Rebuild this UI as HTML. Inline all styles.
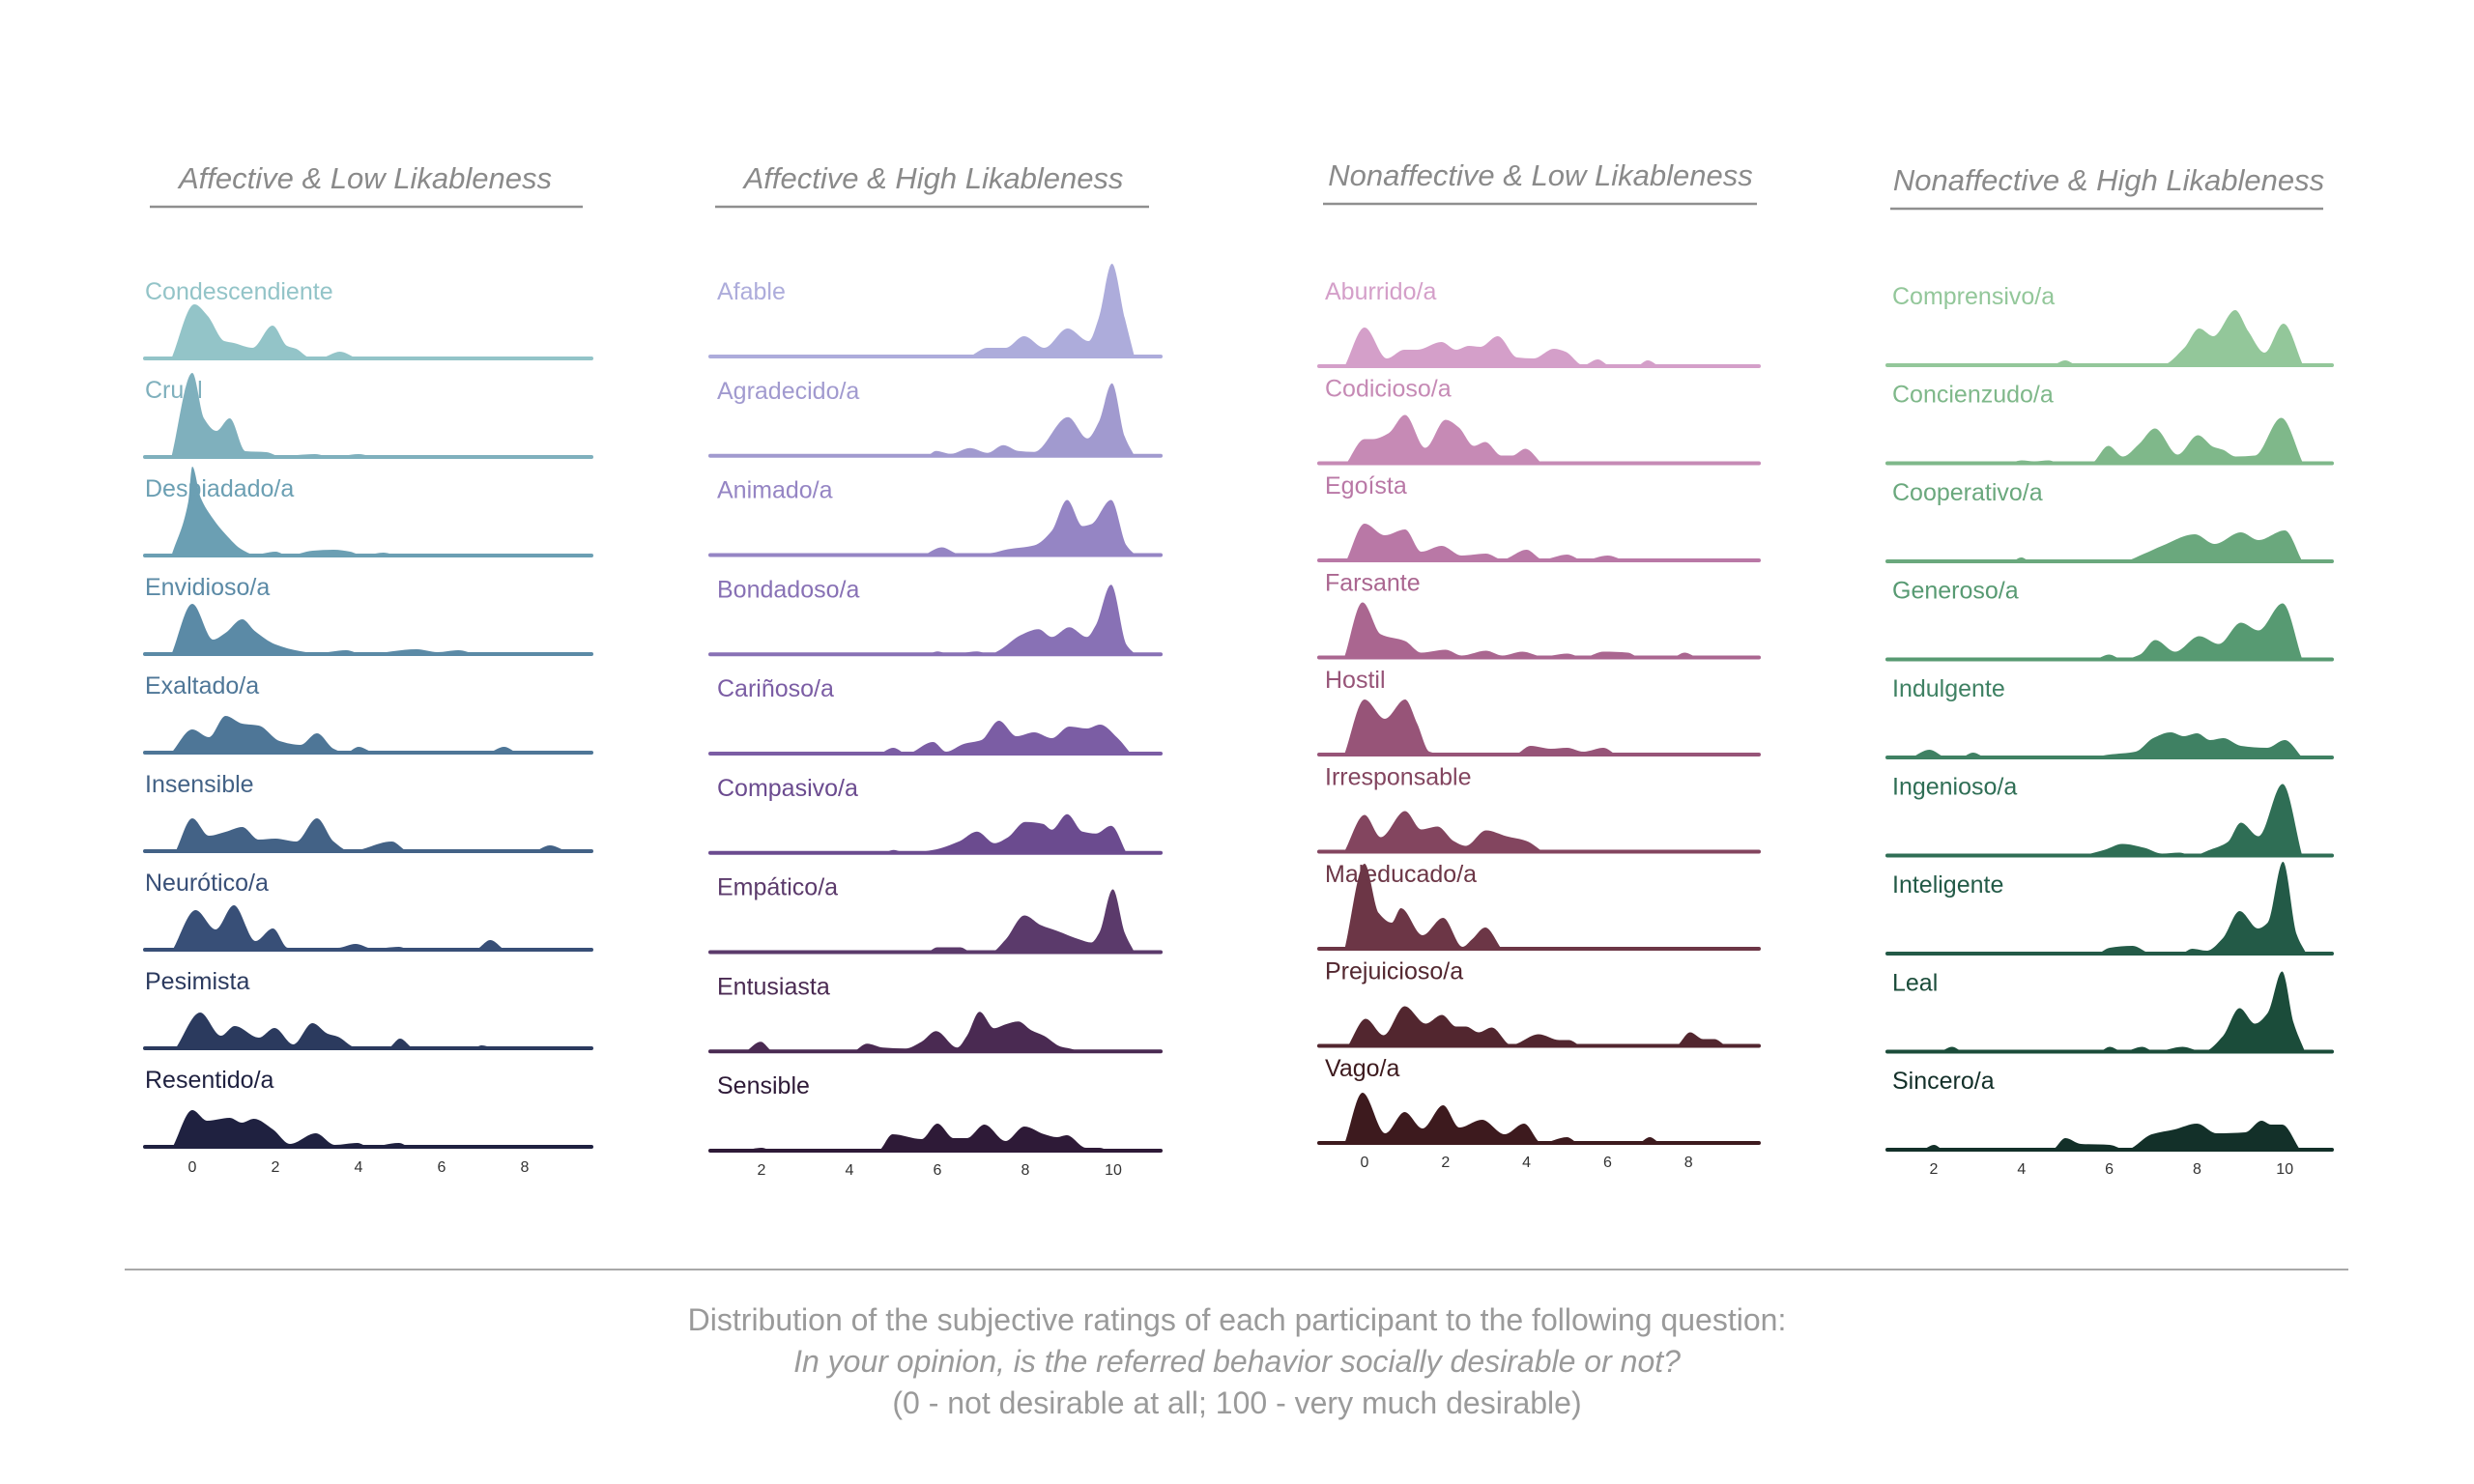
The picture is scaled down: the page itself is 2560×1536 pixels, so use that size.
<!DOCTYPE html>
<html><head><meta charset="utf-8">
<style>
html,body{margin:0;padding:0;background:#fff;}
svg{display:block;}
text{font-family:"Liberation Sans",sans-serif;}
</style></head>
<body>
<svg id="chart" width="2560" height="1536" viewBox="0 0 2560 1536" xmlns="http://www.w3.org/2000/svg">
<rect width="2560" height="1536" fill="#fff"/>
<g id="panels"></g>
<line x1="129" y1="1314" x2="2430" y2="1314" stroke="#a8a8a8" stroke-width="2"/>
<text x="1280" y="1377" text-anchor="middle" font-size="32" fill="#9a9a9a">Distribution of the subjective ratings of each participant to the following question:</text>
<text x="1280" y="1420" text-anchor="middle" font-size="32" font-style="italic" fill="#9a9a9a">In your opinion, is the referred behavior socially desirable or not?</text>
<text x="1280" y="1463" text-anchor="middle" font-size="32" fill="#9a9a9a">(0 - not desirable at all; 100 - very much desirable)</text>
</svg>
<script>
// ---- data: panel titles, row labels, and density knots [rating, density] ----
const panelTitles = ["Affective & Low Likableness","Affective & High Likableness","Nonaffective & Low Likableness","Nonaffective & High Likableness"];
const rowLabels1 = ["Condescendiente","Cruel","Despiadado/a","Envidioso/a","Exaltado/a","Insensible","Neurótico/a","Pesimista","Resentido/a"];
const rowLabels2 = ["Afable","Agradecido/a","Animado/a","Bondadoso/a","Cariñoso/a","Compasivo/a","Empático/a","Entusiasta","Sensible"];
const rowLabels3 = ["Aburrido/a","Codicioso/a","Egoísta","Farsante","Hostil","Irresponsable","Maleducado/a","Prejuicioso/a","Vago/a"];
const rowLabels4 = ["Comprensivo/a","Concienzudo/a","Cooperativo/a","Generoso/a","Indulgente","Ingenioso/a","Inteligente","Leal","Sincero/a"];
const ticks1 = [0,2,4,6,8];
const ticks2 = [2,4,6,8,10];
const ticks3 = [0,2,4,6,8];
const ticks4 = [2,4,6,8,10];

const dens1 = [
 [[-0.5,0],[0.05,56],[0.37,44],[0.77,18],[1.0,16],[1.45,11],[1.93,34],[2.28,13],[2.5,10],[2.83,1],[3.1,1],[3.55,7],[3.95,0]],
 [[-0.5,0],[0,87],[0.28,40],[0.58,27],[0.9,40],[1.28,6],[1.78,5],[2.1,1],[2.95,3],[3.37,0],[4.0,3],[4.35,0]],
 [[-0.5,0],[-0.1,55],[0,92],[0.2,60],[0.5,38],[0.8,22],[1.2,6],[1.5,1],[2.0,4],[2.3,0],[2.9,5],[3.4,6],[3.8,4],[4.1,0],[4.6,3],[4.9,0]],
 [[-0.5,0],[0,52],[0.5,15],[0.8,22],[1.2,36],[1.5,24],[2,10],[2.6,3],[3.0,1],[3.7,4],[4.1,0],[5.4,5],[5.9,2],[6.4,4],[6.8,0]],
 [[-0.5,0],[0,24],[0.4,16],[0.8,38],[1.2,30],[1.6,28],[2.1,12],[2.6,8],[3.0,20],[3.4,4],[3.7,0],[4.0,6],[4.4,0],[7.1,0],[7.5,6],[7.8,0]],
 [[-0.4,0],[0,34],[0.4,16],[0.8,20],[1.2,25],[1.6,12],[2.0,13],[2.5,10],[3.0,34],[3.4,10],[3.8,0],[4.8,10],[5.2,0],[8.2,0],[8.6,6],[9.0,0]],
 [[-0.47,0],[0.08,41],[0.56,21],[1.0,46],[1.52,9],[1.94,22],[2.3,2],[3.0,2],[3.5,2],[3.93,6],[4.35,1],[4.97,3],[5.26,0],[6.8,0],[7.17,10],[7.5,0]],
 [[-0.4,0],[0.19,37],[0.69,13],[1.02,23],[1.6,11],[1.98,21],[2.43,4],[2.89,26],[3.26,15],[3.5,12],[3.93,1],[4.7,0],[5.0,10],[5.34,0],[6.75,0],[6.96,3],[7.25,0]],
 [[-0.47,0],[0,38],[0.36,27],[0.9,30],[1.19,25],[1.48,29],[1.94,18],[2.35,3],[2.97,14],[3.43,2],[3.97,4],[4.26,0],[4.97,4],[5.2,0]]
];
const dens2 = [
 [[6.74,0],[7.14,9],[7.55,9],[7.97,21],[8.43,9],[8.96,29],[9.44,16],[9.67,40],[9.97,96],[10.26,40],[10.48,0]],
 [[5.79,0],[5.97,5],[6.3,2],[6.74,8],[7.14,3],[7.5,11],[7.84,5],[8.2,4],[8.97,40],[9.41,18],[9.67,35],[9.97,75],[10.26,20],[10.48,0]],
 [[5.7,0],[6.1,8],[6.5,1],[7.2,2],[7.6,6],[8.2,10],[8.6,25],[8.95,57],[9.3,30],[9.5,32],[9.95,57],[10.3,10],[10.5,0]],
 [[5.8,0],[6.0,3],[6.3,0],[6.9,3],[7.2,0],[7.4,4],[7.9,20],[8.3,26],[8.6,18],[9.0,28],[9.4,18],[9.6,30],[9.95,72],[10.3,10],[10.5,0]],
 [[4.7,0],[5.0,6],[5.3,0],[5.9,12],[6.2,2],[6.6,10],[7.0,14],[7.4,34],[7.8,18],[8.2,22],[8.6,16],[9.0,28],[9.4,26],[9.7,30],[10.1,16],[10.4,0]],
 [[4.8,0],[5.0,3],[5.3,0],[5.9,3],[6.5,12],[6.9,22],[7.3,10],[7.6,16],[8.0,32],[8.4,30],[8.6,24],[8.95,40],[9.3,22],[9.6,20],[9.95,28],[10.3,0]],
 [[5.79,0],[6.0,5],[6.52,5],[6.78,0],[7.22,0],[7.55,13],[7.98,38],[8.35,28],[8.72,22],[9.24,13],[9.5,10],[9.68,20],[9.99,65],[10.26,20],[10.48,0]],
 [[1.65,0],[1.98,10],[2.27,0],[4.06,0],[4.4,8],[4.76,4],[5.27,3],[5.64,10],[5.97,21],[6.45,4],[6.67,16],[6.96,41],[7.29,24],[7.55,28],[7.84,31],[8.13,22],[8.43,16],[8.8,5],[9.01,3],[9.23,0]],
 [[1.6,0],[2.0,3],[2.27,0],[4.65,0],[4.98,17],[5.64,12],[6.0,28],[6.37,13],[6.67,13],[7.07,27],[7.55,10],[7.98,25],[8.43,17],[8.72,14],[8.94,16],[9.38,3],[9.68,3],[9.9,0]]
];
const dens3 = [
 [[-0.49,0],[0,40],[0.55,8],[0.98,17],[1.3,17],[1.9,25],[2.26,17],[2.58,21],[2.86,20],[3.29,31],[3.77,9],[4.17,8],[4.68,18],[4.96,15],[5.4,1],[5.76,7],[6.08,0],[6.71,0],[6.99,6],[7.27,0]],
 [[-0.45,0],[0,25],[0.2,25],[0.59,31],[1.0,50],[1.5,16],[2.0,45],[2.33,37],[2.7,18],[2.98,22],[3.38,8],[3.65,8],[3.97,15],[4.37,0]],
 [[-0.45,0],[0,38],[0.5,26],[1.0,32],[1.4,9],[1.9,15],[2.4,5],[3.0,7],[3.4,1],[4.0,11],[4.4,1],[5.0,6],[5.4,0],[6.0,5],[6.4,0]],
 [[-0.5,0],[-0.05,57],[0.4,24],[1.0,17],[1.4,5],[2.0,8],[2.4,2],[3.0,7],[3.4,2],[3.9,6],[4.4,1],[5.0,4],[5.4,0],[5.9,6],[6.5,5],[6.8,0],[7.6,0],[7.9,5],[8.2,0]],
 [[-0.5,0],[0,57],[0.5,37],[1.0,57],[1.3,32],[1.6,3],[2.0,0],[3.7,0],[4.1,9],[4.6,6],[5.0,7],[5.4,3],[5.9,7],[6.2,0]],
 [[-0.5,0],[0,38],[0.4,15],[1.0,42],[1.4,23],[1.8,26],[2.2,11],[2.5,6],[3.0,22],[3.5,16],[4.0,11],[4.4,0]],
 [[-0.49,0],[0,88],[0.35,37],[0.67,27],[0.9,42],[1.43,14],[1.94,32],[2.42,2],[2.66,10],[2.98,22],[3.38,0]],
 [[-0.41,0],[0.03,28],[0.47,11],[0.99,41],[1.51,23],[1.91,32],[2.26,20],[2.5,20],[2.82,14],[3.14,19],[3.62,1],[4.3,12],[4.81,6],[5.05,6],[5.37,0],[7.68,0],[8.04,14],[8.36,7],[8.64,7],[8.92,0]],
 [[-0.49,0],[-0.05,52],[0.51,10],[0.99,32],[1.43,15],[1.94,39],[2.34,16],[2.9,24],[3.46,9],[3.94,20],[4.37,0],[5.0,6],[5.29,0],[6.76,0],[7.04,6],[7.28,0]]
];
const dens4 = [
 [[4.73,0],[5.0,5],[5.28,0],[7.19,0],[7.71,18],[8.05,38],[8.37,30],[8.87,57],[9.17,35],[9.54,13],[9.97,43],[10.42,0]],
 [[3.74,0],[4.0,3],[4.29,2],[4.62,3],[4.88,0],[5.58,0],[5.98,18],[6.31,7],[6.68,20],[7.04,36],[7.56,9],[8.02,29],[8.37,17],[8.59,14],[8.88,7],[9.32,8],[9.92,47],[10.42,0]],
 [[3.8,0],[4.0,4],[4.2,0],[6.3,0],[6.8,8],[7.2,16],[7.95,28],[8.4,18],[9.0,30],[9.4,22],[10.0,32],[10.4,0]],
 [[5.7,0],[6.0,5],[6.3,0],[6.7,5],[7.05,20],[7.5,8],[8.05,24],[8.5,16],[9.0,38],[9.4,30],[9.95,58],[10.4,0]],
 [[1.5,0],[1.9,8],[2.3,0],[2.6,0],[2.9,5],[3.2,0],[5.5,0],[6.0,3],[6.6,6],[7.0,20],[7.4,26],[7.7,22],[8.0,25],[8.3,18],[8.6,20],[9.0,12],[9.6,10],[10.0,18],[10.4,0]],
 [[5.4,0],[5.9,6],[6.3,12],[6.8,8],[7.2,2],[7.6,3],[7.9,0],[8.3,6],[8.7,14],[9.0,34],[9.4,20],[9.95,74],[10.4,0]],
 [[5.76,0],[6.01,6],[6.53,8],[6.97,0],[7.63,0],[7.89,5],[8.22,3],[8.59,16],[8.97,44],[9.39,26],[9.61,32],[9.96,95],[10.27,20],[10.49,0]],
 [[2.16,0],[2.42,5],[2.68,0],[5.76,0],[6.01,5],[6.31,0],[6.75,5],[7.04,0],[7.67,5],[8.14,0],[8.59,16],[8.97,45],[9.32,29],[9.61,40],[9.94,83],[10.2,30],[10.46,0]],
 [[1.76,0],[2.01,5],[2.23,0],[4.69,0],[5.0,12],[5.35,6],[6.01,5],[6.38,0],[6.97,16],[7.49,21],[8.0,27],[8.44,17],[9.1,18],[9.47,30],[9.69,26],[9.94,26],[10.35,0]]
];

// ---- styling / layout (not data) ----
const colors = [
 ["#93c4c8","#7fb0bd","#6b9fb3","#5b8aa6","#4e7697","#436286","#384f77","#2b3a5e","#1f2140"],
 ["#adacdb","#a19acf","#9585c4","#8871b5","#7b5da4","#6b4b8f","#5b3a6b","#4a2a52","#2e1a37"],
 ["#d49fc9","#c68ab5","#b978a6","#aa6690","#975478","#83455f","#6c3646","#52262f","#3d1a1e"],
 ["#93c79a","#7fb88a","#6aa87d","#579a72","#3f8163","#2f6e55","#235a47","#1b4c3a","#133029"]
];
const layouts = [
 {x0:150,x1:612, refV:0, refPx:199, unit:43.0, base0:371, step:102, lblOff:61, tickY:1213, titleX:378, titleY:195, ulX0:155, ulX1:603, ulY:214, lblX:150},
 {x0:735,x1:1201, refV:2, refPx:788, unit:45.5, base0:369, step:102.75, lblOff:59, tickY:1216, titleX:966, titleY:195, ulX0:740, ulX1:1189, ulY:214, lblX:742},
 {x0:1365,x1:1820, refV:0, refPx:1412, unit:41.9, base0:379, step:100.5, lblOff:69, tickY:1208, titleX:1594, titleY:192, ulX0:1369, ulX1:1818, ulY:211, lblX:1371},
 {x0:1953,x1:2413, refV:2, refPx:2001, unit:45.4, base0:378, step:101.5, lblOff:63, tickY:1215, titleX:2182, titleY:197, ulX0:1956, ulX1:2404, ulY:216, lblX:1958}
];
const allLabels = [rowLabels1,rowLabels2,rowLabels3,rowLabels4];
const allDens = [dens1,dens2,dens3,dens4];
const allTicks = [ticks1,ticks2,ticks3,ticks4];
const NS = "http://www.w3.org/2000/svg";

function mk(tag, attrs, parent){
  const e = document.createElementNS(NS, tag);
  for (const k in attrs) e.setAttribute(k, attrs[k]);
  parent.appendChild(e);
  return e;
}
function smoothPath(pts){
  const n = pts.length;
  const dx=[], dy=[], m=[];
  for (let i=0;i<n-1;i++){ dx.push(pts[i+1][0]-pts[i][0]); dy.push(pts[i+1][1]-pts[i][1]); m.push(dy[i]/dx[i]); }
  const t=[m[0]];
  for (let i=1;i<n-1;i++){ t.push(m[i-1]*m[i]<=0?0:3*(dx[i-1]+dx[i])/((2*dx[i]+dx[i-1])/m[i-1]+(dx[i]+2*dx[i-1])/m[i])); }
  t.push(m[n-2]);
  let d = "";
  for (let i=0;i<n-1;i++){
    const h=dx[i];
    d += " C"+(pts[i][0]+h/3)+","+(pts[i][1]+t[i]*h/3)+" "+(pts[i+1][0]-h/3)+","+(pts[i+1][1]-t[i+1]*h/3)+" "+pts[i+1][0]+","+pts[i+1][1];
  }
  return d;
}

const root = document.getElementById("panels");
layouts.forEach((L, p) => {
  const g = mk("g", {}, root);
  
  
  const xs = v => L.refPx + (v - L.refV) * L.unit;
  const title = mk("text", {x:L.titleX, y:L.titleY, "text-anchor":"middle", "font-size":31, "font-style":"italic", fill:"#8a8a8a"}, g);
  title.textContent = panelTitles[p];
  
  
  const ul = mk("line", {x1:L.ulX0, x2:L.ulX1, y1:L.ulY, y2:L.ulY, stroke:"#8f8f8f", "stroke-width":2.5}, g);
  
  
  allLabels[p].forEach((lab, r) => {
    const base = L.base0 + r * L.step;
    const col = colors[p][r];
    const rg = mk("g", {}, g);
    
    
    const pts = allDens[p][r].map(k => [xs(k[0]), base - k[1]]);
    const d = "M"+L.x0+","+base+" L"+pts[0][0]+","+base+" L"+pts[0][0]+","+pts[0][1]+smoothPath(pts)+" L"+L.x1+","+base+" Z";
    const halo = mk("path", {d:d, fill:"none", stroke:"#ffffff", "stroke-width":5, "stroke-linejoin":"round"}, rg);
    
    
    const area = mk("path", {d:d, fill:col}, rg);
    
    
    const bl = mk("line", {x1:L.x0, x2:L.x1, y1:base, y2:base, stroke:col, "stroke-width":4, "stroke-linecap":"round"}, rg);
    
    
    const t = mk("text", {x:L.lblX, y:base - L.lblOff, "font-size":25, fill:col}, rg);
    t.textContent = lab;
    
    
  });
  allTicks[p].forEach(v => {
    const tk = mk("text", {x:xs(v), y:L.tickY, "text-anchor":"middle", "font-size":16, fill:"#333"}, g);
    tk.textContent = String(v);
    
    
  });
});
</script>
</body></html>
